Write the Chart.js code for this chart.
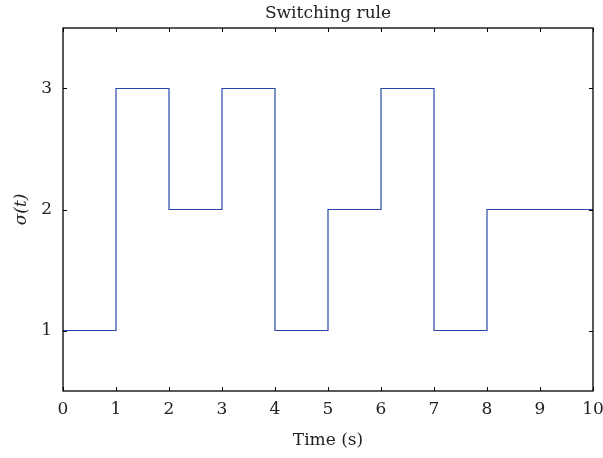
<!DOCTYPE html>
<html>
<head>
<meta charset="utf-8">
<script src="https://cdn.jsdelivr.net/npm/chart.js@4/dist/chart.umd.min.js"></script>
<style>
html,body{margin:0;padding:0;background:#fff;}
#wrap{width:603px;height:458px;}
</style>
</head>
<body>
<div id="wrap"><canvas id="c" width="603" height="458"></canvas></div>
<script>
const chartTitle = 'Switching rule';
const xAxisTitle = 'Time (s)';
const yAxisTitle = 'σ(t)';
const times = [0, 1, 2, 3, 4, 5, 6, 7, 8, 9, 10];
const sigma = [1, 3, 2, 3, 1, 2, 3, 1, 2, 2, 2];
const xTicks = [0, 1, 2, 3, 4, 5, 6, 7, 8, 9, 10];
const yTicks = [1, 2, 3];

const FONT = "'DejaVu Serif', 'Liberation Serif', serif";
const lineColor = '#2a48a8';

const points = times.map((t, i) => ({x: t, y: sigma[i]}));

const innerTicks = {
  id: 'innerTicks',
  afterDraw(chart) {
    const {ctx, chartArea: a, scales: {x, y}} = chart;
    ctx.save();
    ctx.strokeStyle = '#000';
    ctx.lineWidth = 1;
    const L = 4;
    ctx.beginPath();
    xTicks.forEach(v => {
      const px = Math.round(x.getPixelForValue(v)) + 0.5;
      ctx.moveTo(px, a.bottom); ctx.lineTo(px, a.bottom - L);
      ctx.moveTo(px, a.top); ctx.lineTo(px, a.top + L);
    });
    yTicks.forEach(v => {
      const py = Math.round(y.getPixelForValue(v)) + 0.5;
      ctx.moveTo(a.left, py); ctx.lineTo(a.left + L, py);
      ctx.moveTo(a.right, py); ctx.lineTo(a.right - L, py);
    });
    ctx.stroke();
    ctx.lineWidth = 1.3;
    ctx.strokeRect(a.left, a.top, a.right - a.left, a.bottom - a.top);
    ctx.restore();
  }
};

new Chart(document.getElementById('c'), {
  type: 'line',
  data: {
    datasets: [{
      data: points,
      stepped: 'before',
      borderColor: lineColor,
      borderWidth: 1.2,
      pointRadius: 0,
      fill: false
    }]
  },
  options: {
    responsive: false,
    animation: false,
    layout: {padding: {left: 0, right: 0, top: 0, bottom: 0}},
    plugins: {
      legend: {display: false},
      tooltip: {enabled: false},
      title: {
        display: true,
        fullSize: false,
        text: chartTitle,
        color: '#222',
        font: {family: FONT, size: 17, weight: 'normal', lineHeight: 1.2},
        padding: {top: 3, bottom: 4.6}
      }
    },
    scales: {
      x: {
        type: 'linear',
        min: 0, max: 10,
        afterBuildTicks: s => { s.ticks = xTicks.map(v => ({value: v})); },
        afterFit: s => { s.height = 67; s.paddingRight = 10; s.paddingLeft = 0; },
        grid: {display: false, drawTicks: false},
        border: {display: false},
        ticks: {color: '#222', padding: 8, font: {family: FONT, size: 17}, maxRotation: 0},
        title: {display: true, text: xAxisTitle, color: '#222', font: {family: FONT, size: 17}, padding: {top: 0, bottom: 7}}
      },
      y: {
        type: 'linear',
        min: 0.5, max: 3.5,
        afterBuildTicks: s => { s.ticks = yTicks.map(v => ({value: v})); },
        afterFit: s => { s.width = 63; s.paddingTop = 0; s.paddingBottom = 0; },
        grid: {display: false, drawTicks: false},
        border: {display: false},
        ticks: {color: '#222', padding: 11, font: {family: FONT, size: 17}},
        title: {display: true, text: yAxisTitle, color: '#222', font: {family: FONT, size: 17, style: 'italic'}, padding: {top: 11, bottom: 0}}
      }
    }
  },
  plugins: [innerTicks]
});
</script>
</body>
</html>
